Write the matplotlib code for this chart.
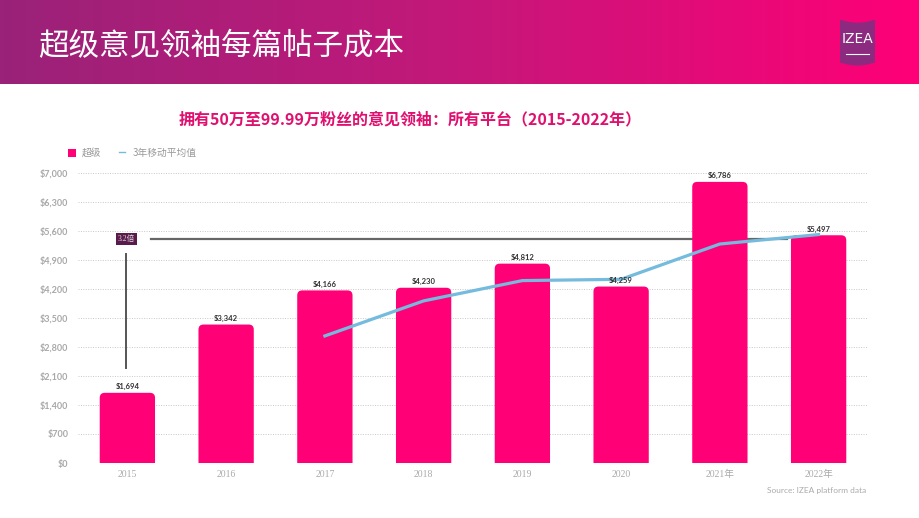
import numpy as np
import matplotlib
matplotlib.use("Agg")
import matplotlib.pyplot as plt
from matplotlib.patches import FancyBboxPatch, Polygon
from matplotlib.colors import LinearSegmentedColormap
from matplotlib.ticker import FuncFormatter, MultipleLocator

# Datos
years = ["2015", "2016", "2017", "2018", "2019", "2020", "2021年", "2022年"]
cost = [1694, 3342, 4166, 4230, 4812, 4259, 6786, 5497]
ma_years = ["2017", "2018", "2019", "2020", "2021年", "2022年"]
ma_values = [3067, 3913, 4403, 4434, 5286, 5514]

TITLE = "超级意见领袖每篇帖子成本"
SUBTITLE = "拥有50万至99.99万粉丝的意见领袖：所有平台（2015-2022年）"
SOURCE = "Source: IZEA platform data"

PINK = "#ff0077"
BLUE = "#74bbdd"
DARK = "#333333"
CJK = ["Noto Sans CJK SC", "DejaVu Sans"]

plt.rcParams["font.family"] = CJK

W, H = 920, 518
fig = plt.figure(figsize=(W / 100, H / 100), dpi=100)
fig.patch.set_facecolor("white")

# Cabecera con degradado
hdr = fig.add_axes([0, 1 - 84 / H, 1, 84 / H])
cmap = LinearSegmentedColormap.from_list("hdr", ["#9a2278", "#c4187a", "#ff0077"])
hdr.imshow(np.linspace(0, 1, 256)[None, :], aspect="auto", cmap=cmap,
           extent=[0, 1, 0, 1])
hdr.set_xlim(0, 1)
hdr.set_ylim(0, 1)
hdr.axis("off")
hdr.text(38 / W, 0.45, TITLE, color="white", fontsize=22, fontweight="light",
         va="center", ha="left")

# logo (banderin con bordes curvos)
t = np.linspace(0, 1, 20)
lx = (840 + 35 * t) / W
sag = 0.035 * np.sin(np.pi * t)
top = 0.765 - sag
bot = 0.255 - sag
pts = np.vstack([np.column_stack([lx, top]), np.column_stack([lx[::-1], bot[::-1]])])
hdr.add_patch(Polygon(pts, closed=True, facecolor="#8c2a80", edgecolor="none"))
hdr.text(857.5 / W, 0.53, "IZEA", color="white", fontsize=10, fontweight="normal",
         ha="center", va="center", family="DejaVu Sans Condensed")
hdr.plot([846 / W, 869 / W], [0.36, 0.36], color="white", linewidth=0.8)

# Grafico
ax = fig.add_axes([78 / W, 1 - 463 / H, 790 / W, 290 / H])
x = np.arange(len(years))
bw = 0.56
px_x = 8 / 790
px_y = 7000 / 290
for xi, v in zip(x, cost):
    p = FancyBboxPatch((xi - bw / 2, -300), bw, v + 300,
                       boxstyle="round,pad=0,rounding_size=%f" % (5 * px_x),
                       mutation_aspect=px_y / px_x,
                       facecolor=PINK, edgecolor="none", zorder=3)
    p.set_clip_box(ax.bbox)
    ax.add_patch(p)
    ax.text(xi, v + 60, f"${v:,}", ha="center", va="bottom", fontsize=5.5,
            fontweight="bold", color=DARK, zorder=5, family="Lato")

ma_x = [years.index(y) for y in ma_years]
ax.plot(ma_x, ma_values, color=BLUE, linewidth=2.3, zorder=4)

# anotacion 3.2倍
ax.plot([0.24, 6.68], [5410, 5410], color="#666666", linewidth=1.6, zorder=2)
ax.plot([-0.01, -0.01], [2290, 5045], color="#555555", linewidth=1.4, zorder=2)
ax.text(-0.01, 5410, "3.2倍", fontsize=5.5, color="#dddddd", ha="center", va="center",
        family=["Liberation Serif", "Noto Sans CJK SC"], zorder=6,
        bbox=dict(boxstyle="square,pad=0.25", facecolor="#5a1a4c", edgecolor="none"))

ax.set_xlim(-0.5, 7.5)
ax.set_ylim(0, 7000)
ax.yaxis.set_major_locator(MultipleLocator(700))
ax.yaxis.set_major_formatter(FuncFormatter(lambda v, _p: f"${v:,.0f}"))
ax.set_xticks(x)
ax.set_xticklabels(years)
for lbl in ax.get_xticklabels():
    lbl.set_family(["Liberation Serif", "Noto Sans CJK SC"])
    lbl.set_fontsize(7)
    lbl.set_color("#aaaaaa")
for lbl in ax.get_yticklabels():
    lbl.set_family("Lato")
    lbl.set_fontsize(6.5)
    lbl.set_fontweight("bold")
    lbl.set_color("#a8a8a8")
ax.tick_params(length=0, pad=5)
ax.tick_params(axis="y", pad=7)
ax.grid(axis="y", color="#c8c8c8", linestyle=(0, (1, 1.5)), linewidth=0.7, zorder=0)
for s in ax.spines.values():
    s.set_visible(False)

# subtitulo
fig.text(410 / W, 1 - 119 / H, SUBTITLE, ha="center", va="center", fontsize=11.5,
         fontweight="bold", color="#e0106f")

# leyenda
fig.patches.append(plt.Rectangle((68 / W, 1 - 157 / H), 8 / W, 8 / H,
                                 transform=fig.transFigure, facecolor=PINK,
                                 edgecolor="none"))
fig.text(82 / W, 1 - 153 / H, "超级", fontsize=7, color="#999999", va="center")
fig.lines.append(plt.Line2D([119 / W, 125 / W], [1 - 152 / H, 1 - 152 / H],
                            transform=fig.transFigure, color=BLUE, linewidth=1))
fig.text(133 / W, 1 - 153 / H, "3年移动平均值", fontsize=7, color="#999999", va="center")

fig.text(866 / W, 1 - 491 / H, SOURCE, ha="right", va="center", fontsize=6,
         color="#aaaaaa", family="Lato")

fig.savefig("out.png", dpi=100, facecolor="white")
